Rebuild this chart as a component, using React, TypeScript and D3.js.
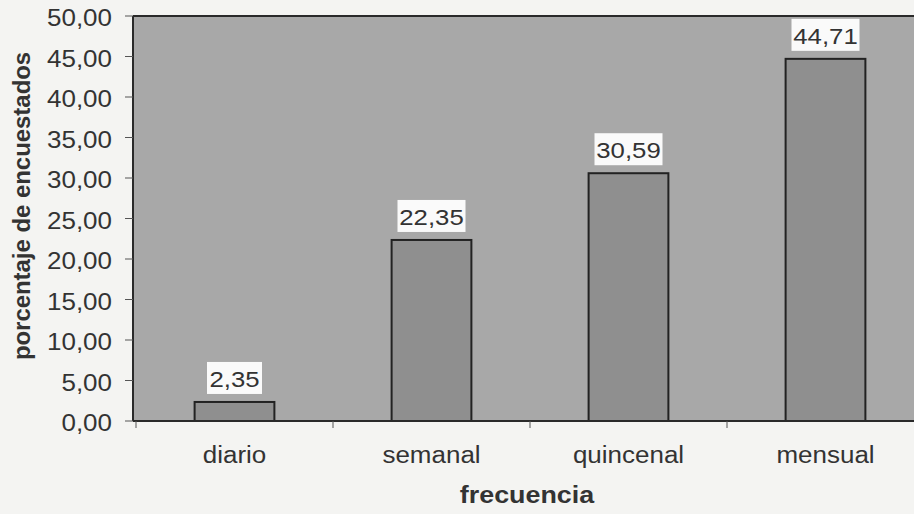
import React from "react";
import * as d3 from "d3";

const categories = ["diario", "semanal", "quincenal", "mensual"];
const values = [2.35, 22.35, 30.59, 44.71];
const yTicks = [0, 5, 10, 15, 20, 25, 30, 35, 40, 45, 50];

function T(props: { x: number; y: number; sx: number; size: number; anchor: string; bold?: boolean; children: React.ReactNode; rotate?: number }) {
  const { x, y, sx, size, anchor, bold, children, rotate } = props;
  return (
    <text
      transform={`translate(${x},${y})${rotate ? ` rotate(${rotate})` : ""} scale(${sx},1)`}
      textAnchor={anchor}
      fontSize={size}
      fontWeight={bold ? "bold" : "normal"}
      fill="#333"
    >
      {children}
    </text>
  );
}

export default function App() {
  const W = 914, H = 514;
  const plotLeft = 133, right = 924, top = 16, bottom = 421;
  const x = d3.scaleBand<string>().domain(categories).range([136, right]).paddingInner(0).paddingOuter(0);
  const y = d3.scaleLinear().domain([0, 50]).range([bottom, top]);
  const fmt = (v: number) => v.toFixed(2).replace(".", ",");
  const barW = x.bandwidth() * 0.405;
  const font = "'Liberation Sans', Arial, sans-serif";
  return (
    <svg width={W} height={H} style={{ position: "absolute", left: 0, top: 0, background: "#f4f4f2" }} fontFamily={font}>
      <rect x={0} y={0} width={W} height={H} fill="#f4f4f2" />
      <rect x={plotLeft} y={top} width={W - plotLeft + 10} height={bottom - top} fill="#a8a8a8" />
      <line x1={plotLeft} x2={W + 10} y1={top} y2={top} stroke="#2a2a2a" strokeWidth={2} />
      <line x1={plotLeft} x2={plotLeft} y1={top} y2={bottom} stroke="#2a2a2a" strokeWidth={2} />
      {categories.map((c, i) => {
        const cx = x(c)! + x.bandwidth() / 2;
        const yv = y(values[i]);
        const label = fmt(values[i]);
        const bw = label.length * 13 + 3;
        return (
          <g key={c}>
            <rect x={cx - barW / 2} y={yv} width={barW} height={bottom - yv} fill="#8f8f8f" stroke="#222" strokeWidth={2} />
            <rect x={cx - bw / 2} y={yv - 40} width={bw} height={32} fill="#fafafa" />
            <T x={cx} y={yv - 15} sx={1.12} size={23} anchor="middle">{label}</T>
            <T x={cx} y={463} sx={1.13} size={23} anchor="middle">{c}</T>
          </g>
        );
      })}
      <line x1={plotLeft} x2={W + 10} y1={bottom} y2={bottom} stroke="#2a2a2a" strokeWidth={2} />
      {categories.map((c) => (
        <line key={"t" + c} x1={x(c)!} x2={x(c)!} y1={bottom} y2={bottom + 7} stroke="#555" strokeWidth={1} />
      ))}
      {yTicks.map((t) => (
        <g key={t}>
          <line x1={plotLeft - 8} x2={plotLeft} y1={y(t)} y2={y(t)} stroke="#555" strokeWidth={1} />
          <T x={112} y={y(t) + 10} sx={1.13} size={23} anchor="end">{fmt(t)}</T>
        </g>
      ))}
      <T x={30} y={206} rotate={-90} sx={1.04} size={23} anchor="middle" bold>porcentaje de encuestados</T>
      <T x={527} y={503} sx={1.12} size={24} anchor="middle" bold>frecuencia</T>
    </svg>
  );
}
